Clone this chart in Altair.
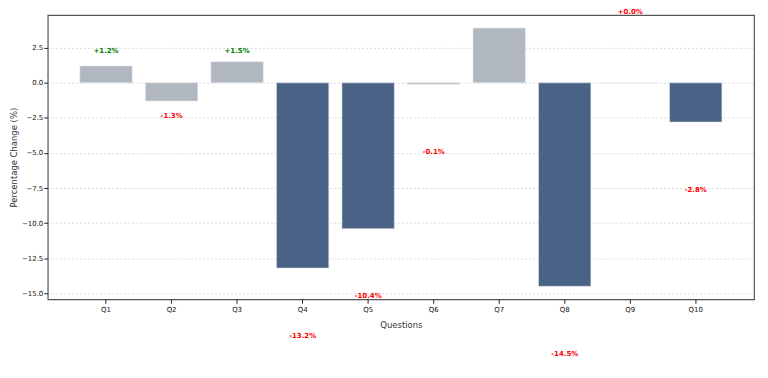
import altair as alt
import pandas as pd

questions = ["Q1", "Q2", "Q3", "Q4", "Q5", "Q6", "Q7", "Q8", "Q9", "Q10"]
changes = [1.2, -1.3, 1.5, -13.2, -10.4, -0.1, 3.9, -14.5, 0.0, -2.8]

# labels as they appear in the picture (Q7 label is not visible)
label_questions = ["Q1", "Q2", "Q3", "Q4", "Q5", "Q6", "Q8", "Q9", "Q10"]
label_values = [1.2, -1.3, 1.5, -13.2, -10.4, -0.1, -14.5, 0.0, -2.8]
label_y = [2.26, -2.36, 2.26, -18.04, -15.2, -4.94, -19.3, 5.07, -7.65]

y_ticks = [-15.0, -12.5, -10.0, -7.5, -5.0, -2.5, 0.0, 2.5]

bars_df = pd.DataFrame({"q": questions, "change": changes})
labels_df = pd.DataFrame({
    "q": label_questions,
    "value": label_values,
    "ly": label_y,
    "txt": [f"{v:+.1f}%" for v in label_values],
})

FONT = "DejaVu Sans"
y_scale = alt.Scale(domain=[-15.42, 4.82], nice=False, zero=False)
x_scale = alt.Scale(paddingInner=0.2, paddingOuter=0.49)

y_axis = alt.Axis(title="Percentage Change (%)", values=y_ticks, domain=False,
                  labelExpr="replace(format(datum.value, '.1f'), '-', '\u2212')",
                  tickSize=4, tickColor="#222", labelPadding=1, labelFontSize=7,
                  titleFontSize=8.5, titlePadding=3, titleFontWeight="normal",
                  grid=True, gridColor="#cfcfcf", gridDash=[2, 2], gridWidth=0.8,
                  labelColor="#111", titleColor="#333", labelFont=FONT, titleFont=FONT)
x_axis = alt.Axis(title="Questions", labelAngle=0, grid=False, domain=False,
                  tickSize=4, tickColor="#222", labelPadding=2, labelFontSize=7,
                  titleFontSize=8.5, titlePadding=8, titleFontWeight="normal",
                  labelColor="#111", titleColor="#333", labelFont=FONT, titleFont=FONT)

bars = alt.Chart(bars_df).mark_bar(stroke="#e6e9ee", strokeWidth=0.6).encode(
    x=alt.X("q:N", sort=questions, scale=x_scale, axis=x_axis),
    y=alt.Y("change:Q", scale=y_scale, axis=y_axis),
    color=alt.condition(alt.datum.change < -2, alt.value("#4a6285"), alt.value("#b0b7bf")),
)

text = alt.Chart(labels_df).mark_text(fontWeight="bold", fontSize=7, font=FONT).encode(
    x=alt.X("q:N", sort=questions, scale=x_scale, axis=x_axis),
    y=alt.Y("ly:Q", scale=y_scale, axis=y_axis),
    text="txt:N",
    color=alt.condition(alt.datum.value > 0, alt.value("#008000"), alt.value("#ff0000")),
)

chart = alt.layer(bars, text).properties(
    width=711, height=286,
    padding={"left": 40, "top": 6, "right": 6, "bottom": 62},
    autosize=alt.AutoSizeParams(type="none"),
).configure_view(stroke="#555", strokeWidth=1.2)

chart.save("out.html", embed_options={"renderer": "svg", "actions": False})
